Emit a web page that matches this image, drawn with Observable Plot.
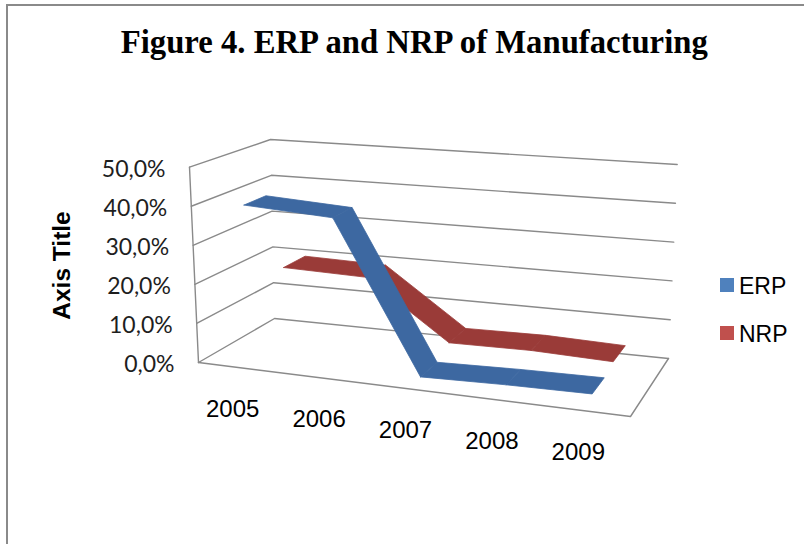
<!DOCTYPE html>
<html>
<head>
<meta charset="utf-8">
<script src="https://cdn.jsdelivr.net/npm/d3@7"></script>
<script src="https://cdn.jsdelivr.net/npm/@observablehq/plot@0.6"></script>
<style>
  body { margin: 0; background: #fff; }
  #wrap { position: relative; width: 804px; height: 544px; overflow: hidden; background: #fff; }
  #frame { position: absolute; left: 6px; top: 4px; width: 900px; height: 700px;
           border-top: 2px solid #8a8a8a; border-left: 2px solid #8a8a8a; }
  #title { position: absolute; top: 26px; left: 0; width: 828px; text-align: center;
           font: bold 33px "Liberation Serif", "Times New Roman", serif; line-height: 33px; color: #000; white-space: nowrap; }
  #title span { display: inline-block; transform-origin: 50% 50%; }
  #chart { position: absolute; left: 0; top: 0; }
  .leg { position: absolute; font: 23px "Liberation Sans", Arial, sans-serif; color: #000; line-height: 23px; }
  .sw { position: absolute; width: 14px; height: 14px; }
</style>
</head>
<body>
<div id="wrap">
  <div id="frame"></div>
  <div id="chart"></div>
  <div id="title"><span>Figure 4. ERP and NRP of Manufacturing</span></div>
  <div id="legend"></div>
</div>
<script>
// ---------------- data ----------------
const years = ["2005", "2006", "2007", "2008", "2009"];
const seriesNames = ["ERP", "NRP"];
const erp = [40.5, 39.3, 1.8, 2.4, 2.7];
const nrp = [19.5, 19.0, 4.1, 4.4, 3.8];
const yTicks = [0, 10, 20, 30, 40, 50];
const yTickLabels = ["0,0%", "10,0%", "20,0%", "30,0%", "40,0%", "50,0%"];
const axisTitle = "Axis Title";
const ribbonColors = ["#3d68a1", "#9a3b38"];
const legendColors = ["#4f81bd", "#c0504d"];

// ---------------- 3D box projection (layout) ----------------
const F = {fl: [198, 362], bl: [274, 318], br: [668, 358], fr: [630, 416]};   // floor corners
const T = {fl: [189, 166.7], bl: [270, 139], br: [676.7, 164], fr: [641, 205]}; // top corners
function bil(C, u, w, k) {
  return (1 - u) * (1 - w) * C.fl[k] + (1 - u) * w * C.bl[k] + u * w * C.br[k] + u * (1 - w) * C.fr[k];
}
function proj(u, w, h) {
  const fx = bil(F, u, w, 0), fy = bil(F, u, w, 1);
  const tx = bil(T, u, w, 0), ty = bil(T, u, w, 1);
  return [fx + h * (tx - fx), fy + h * (ty - fy)];
}
const uScale = d3.scalePoint().domain(years).range([0, 1]).padding(0.5);
const hScale = d3.scaleLinear().domain([0, 50]).range([0, 1]);
const depth = d3.scalePoint().domain(seriesNames).range([0, 1]).padding(0.5); // ERP front, NRP back
const half = 0.145;

// gridlines: side wall + back wall
const grid = [];
yTicks.forEach(t => {
  const h = hScale(t);
  [[0, 0], [0, 1], [1, 1]].forEach(([u, w], i) => {
    const [x, y] = proj(u, w, h);
    grid.push({id: "g" + t, x, y, i});
  });
});
// floor front & right edges, front-left vertical axis
const edges = [];
[[0, 0, 0], [1, 0, 0], [1, 1, 0]].forEach(([u, w, h]) => { const [x, y] = proj(u, w, h); edges.push({id: "floor", x, y}); });
[[0, 0, 0], [0, 0, 1]].forEach(([u, w, h]) => { const [x, y] = proj(u, w, h); edges.push({id: "axis", x, y}); });

// ribbons
function ribbon(name, values) {
  const w = depth(name);
  const out = [];
  for (let i = 0; i < values.length - 1; i++) {
    const u0 = uScale(years[i]), u1 = uScale(years[i + 1]);
    const h0 = hScale(values[i]), h1 = hScale(values[i + 1]);
    const pts = [proj(u0, w - half, h0), proj(u1, w - half, h1), proj(u1, w + half, h1), proj(u0, w + half, h0), proj(u0, w - half, h0)];
    pts.forEach(([x, y]) => out.push({id: name + i, x, y}));
  }
  return out;
}
const nrpRibbon = ribbon("NRP", nrp);
const erpRibbon = ribbon("ERP", erp);

// tick labels
const yLab = yTicks.map((t, i) => { const [x, y] = proj(0, 0, hScale(t)); return {x: x - 24, y: y + 2, text: yTickLabels[i]}; });
const xLab = years.map(yr => { const [x, y] = proj(uScale(yr), 0, 0); return {x: x - 9, y: y + 41, text: yr}; });

const plot = Plot.plot({
  width: 804, height: 544, margin: 0,
  x: {domain: [0, 804], range: [0, 804], axis: null},
  y: {domain: [0, 544], range: [0, 544], axis: null},
  style: {background: "transparent"},
  marks: [
    Plot.line(grid, {x: "x", y: "y", z: "id", stroke: "#8a8a8a", strokeWidth: 1.4}),
    Plot.line(edges, {x: "x", y: "y", z: "id", stroke: "#8a8a8a", strokeWidth: 1.4}),
    Plot.line(nrpRibbon, {x: "x", y: "y", z: "id", fill: ribbonColors[1], stroke: ribbonColors[1], strokeWidth: 0.8, curve: "linear"}),
    Plot.line(erpRibbon, {x: "x", y: "y", z: "id", fill: ribbonColors[0], stroke: ribbonColors[0], strokeWidth: 0.8, curve: "linear"}),
    Plot.text(yLab, {x: "x", y: "y", text: "text", textAnchor: "end", fontSize: 23, fontFamily: "Lato, 'Open Sans', sans-serif", fill: "#1e1e1e"}),
    Plot.text(xLab, {x: "x", y: "y", text: "text", fontSize: 24, fontFamily: "'Liberation Sans', Arial, sans-serif", fill: "#000"}),
    Plot.text([axisTitle], {x: () => 62, y: () => 265, text: d => d, rotate: -90, fontSize: 24.5, fontWeight: "bold", fontFamily: "'Liberation Sans', Arial, sans-serif", fill: "#000"})
  ]
});
document.getElementById("chart").appendChild(plot);

// legend
const leg = document.getElementById("legend");
seriesNames.forEach((s, i) => {
  const top = 278 + i * 48;
  const sw = document.createElement("div");
  sw.className = "sw"; sw.style.left = "720px"; sw.style.top = top + "px"; sw.style.background = legendColors[i];
  leg.appendChild(sw);
  const t = document.createElement("div");
  t.className = "leg"; t.style.left = "739px"; t.style.top = (top - 3) + "px"; t.textContent = s;
  leg.appendChild(t);
});

// fit the title width to the reference
const span = document.querySelector("#title span");
const w = span.getBoundingClientRect().width;
span.style.transform = `scaleX(${587 / w})`;
</script>
</body>
</html>
